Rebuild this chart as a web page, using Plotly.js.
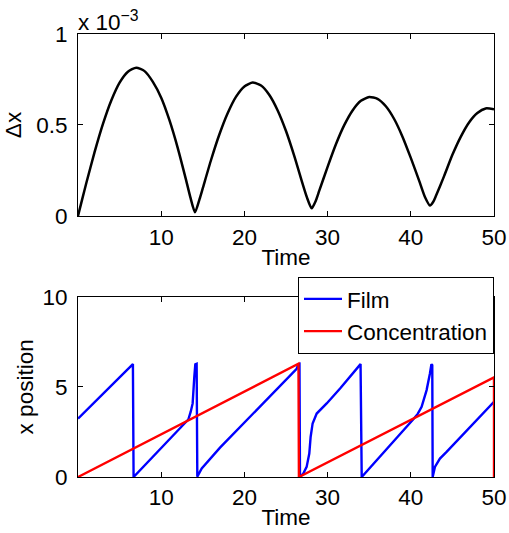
<!DOCTYPE html>
<html>
<head>
<meta charset="utf-8">
<script src="https://cdn.plot.ly/plotly-3.0.1.min.js"></script>
<style>html,body{margin:0;padding:0;background:#fff;}#chart{width:509px;height:533px;}</style>
</head>
<body>
<div id="chart"></div>
<script>
// Top panel: Δx (values in units of 1e-3) vs time
const timeTop = [0, 0.5, 1, 2, 3, 4, 5, 6, 7, 8, 9, 10, 11, 12, 13, 13.5, 14.06, 14.6, 15, 16, 17, 18, 19, 20, 21, 22, 23, 24, 25, 26, 27, 27.5, 28.08, 28.6, 29, 30, 31, 32, 33, 34, 35, 36, 37, 38, 39, 40, 41, 41.7, 42.3, 42.7, 43, 44, 45, 46, 47, 48, 49, 50];
const deltaX = [0, 0.091, 0.181, 0.352, 0.506, 0.635, 0.733, 0.793, 0.815, 0.796, 0.737, 0.650, 0.525, 0.372, 0.196, 0.104, 0.020, 0.091, 0.153, 0.309, 0.449, 0.566, 0.656, 0.712, 0.733, 0.717, 0.665, 0.580, 0.467, 0.329, 0.176, 0.104, 0.042, 0.086, 0.139, 0.270, 0.394, 0.499, 0.580, 0.633, 0.654, 0.644, 0.603, 0.533, 0.436, 0.319, 0.194, 0.104, 0.057, 0.078, 0.108, 0.219, 0.336, 0.435, 0.514, 0.566, 0.591, 0.587];

// Bottom panel: x position of film and concentration
const timeFilm = [0, 6.6, 6.68, 13.26, 13.54, 13.78, 13.98, 14.1, 14.26, 14.34, 14.87, 15.87, 17.07, 26.28, 26.48, 26.62, 26.68, 27.08, 27.48, 27.8, 27.96, 28.2, 28.69, 29.89, 31.5, 33.96, 34.1, 40.3, 40.83, 41.3, 41.9, 42.3, 42.48, 42.58, 42.63, 42.9, 43.5, 44.3, 50];
const film = [3.24, 6.26, 0, 3.19, 3.61, 4.08, 5.56, 6.25, 6.28, 0.02, 0.47, 1.02, 1.63, 6.0, 6.26, 6.28, 0, 0.19, 0.56, 1.3, 2.22, 2.97, 3.52, 4.08, 4.91, 6.26, 0, 3.2, 3.5, 3.89, 4.82, 5.74, 6.26, 6.2, 0, 0.56, 1.02, 1.39, 4.17];
const timeConc = [0, 26.5, 26.55, 50, 50];
const conc = [0, 6.28, 0, 5.52, 0];

const xTicks = [10, 20, 30, 40, 50];
const yTicksTop = [0, 0.5, 1];
const yTickTextTop = ['0', '0.5', '1'];
const yTicksBot = [0, 5, 10];

const FONT = '"Liberation Sans", Arial, sans-serif';
const FS = 22.5;

const traces = [
  {x: timeTop, y: deltaX, xaxis: 'x', yaxis: 'y', mode: 'lines', line: {color: '#000', width: 2.5, shape: 'spline', smoothing: 0.6}, showlegend: false},
  {x: timeFilm, y: film, xaxis: 'x2', yaxis: 'y2', mode: 'lines', name: 'Film', line: {color: '#0000ff', width: 2.4}, cliponaxis: false},
  {x: timeConc, y: conc, xaxis: 'x2', yaxis: 'y2', mode: 'lines', name: 'Concentration', line: {color: '#ff0000', width: 2.4}, cliponaxis: false}
];

const axBase = {
  showgrid: false, zeroline: false, showline: true, linecolor: '#000', linewidth: 1,
  ticks: 'inside', ticklen: 5, tickcolor: '#000', mirror: 'ticks',
  tickfont: {family: FONT, size: FS, color: '#000'}
};

const layout = {
  width: 509, height: 533,
  margin: {l: 78, r: 15, t: 34, b: 56},
  paper_bgcolor: '#fff', plot_bgcolor: '#fff',
  font: {family: FONT, size: FS, color: '#000'},
  xaxis: Object.assign({}, axBase, {domain: [0, 1], range: [0, 50], tickvals: xTicks, anchor: 'y',
    title: {text: 'Time', font: {family: FONT, size: FS}, standoff: 0}, ticklabelstandoff: 1}),
  yaxis: Object.assign({}, axBase, {domain: [0.5892, 1], range: [0, 1], tickvals: yTicksTop, ticktext: yTickTextTop, anchor: 'x',
    title: {text: 'Δx', font: {family: FONT, size: FS}, standoff: 8}, ticklabelstandoff: 5}),
  xaxis2: Object.assign({}, axBase, {domain: [0, 1], range: [0, 50], tickvals: xTicks, anchor: 'y2',
    title: {text: 'Time', font: {family: FONT, size: FS}, standoff: 0}, ticklabelstandoff: 0}),
  yaxis2: Object.assign({}, axBase, {domain: [0, 0.407], range: [0, 10], tickvals: yTicksBot, anchor: 'x2',
    title: {text: 'x position', font: {family: FONT, size: FS}, standoff: 2}, ticklabelstandoff: 5}),
  legend: {x: 1, xanchor: 'right', y: 0.452, yanchor: 'top', bgcolor: '#fff', bordercolor: '#000', borderwidth: 1,
    itemwidth: 38, font: {family: FONT, size: FS, color: '#000'}},
  annotations: [
    {xref: 'paper', yref: 'paper', x: 0, y: 1, xanchor: 'left', yanchor: 'bottom', showarrow: false,
     text: 'x 10<sup>−3</sup>', font: {family: FONT, size: FS, color: '#000'}, xshift: -2, yshift: -3}
  ],
  showlegend: true
};

Plotly.newPlot('chart', traces, layout, {displayModeBar: false, staticPlot: true});
</script>
</body>
</html>
